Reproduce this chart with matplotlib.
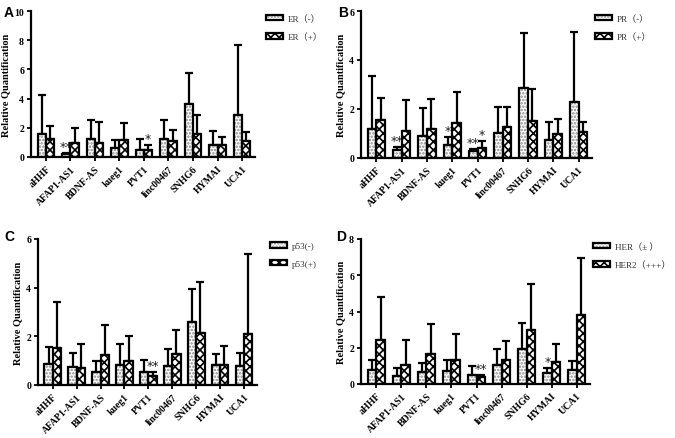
import matplotlib
matplotlib.use("Agg")
import matplotlib.pyplot as plt
import matplotlib.patches as mpatches
import numpy as np

plt.rcParams['hatch.linewidth'] = 1.2

genes = ["aHHF", "AFAP1-AS1", "BDNF-AS", "kueg1", "PVT1", "linc00467", "SNHG6", "HYMAI", "UCA1"]

# Panel A: ER
a_neg = [1.6, 0.22, 1.2, 0.65, 0.5, 1.25, 3.6, 0.85, 2.9]
a_neg_err = [4.25, 0.3, 2.55, 1.15, 1.2, 2.55, 5.75, 1.75, 7.7]
a_pos = [1.2, 0.95, 0.95, 1.15, 0.5, 1.1, 1.6, 0.85, 1.1]
a_pos_err = [2.1, 2.0, 2.4, 2.3, 0.85, 1.85, 2.9, 1.4, 1.7]
a_labels = ["ER（-）", "ER（+）"]

# Panel B: PR
b_neg = [1.2, 0.32, 0.9, 0.55, 0.28, 1.02, 2.85, 0.72, 2.3]
b_neg_err = [3.35, 0.45, 2.05, 0.87, 0.38, 2.1, 5.1, 1.48, 5.15]
b_pos = [1.55, 1.1, 1.2, 1.42, 0.42, 1.28, 1.52, 0.98, 1.08]
b_pos_err = [2.45, 2.35, 2.4, 2.7, 0.7, 2.1, 2.8, 1.6, 1.45]
b_labels = ["PR（-）", "PR（+）"]

# Panel C: p53
c_neg = [0.88, 0.72, 0.52, 0.82, 0.52, 0.8, 2.58, 0.82, 0.8]
c_neg_err = [1.57, 1.33, 0.98, 1.69, 1.01, 1.46, 3.93, 1.27, 1.32]
c_pos = [1.52, 0.68, 1.24, 1.0, 0.35, 1.27, 2.12, 0.82, 2.1]
c_pos_err = [3.4, 1.67, 2.48, 2.03, 0.55, 2.28, 4.25, 1.6, 5.37]
c_labels = ["p53(-)", "p53(+)"]

# Panel D: HER2
d_neg = [0.78, 0.45, 0.68, 0.73, 0.52, 1.05, 1.95, 0.6, 0.8]
d_neg_err = [1.3, 0.88, 1.18, 1.3, 1.0, 1.95, 3.38, 0.88, 1.28]
d_pos = [2.43, 1.05, 1.68, 1.3, 0.38, 1.33, 3.0, 1.2, 3.82]
d_pos_err = [4.8, 2.45, 3.33, 2.77, 0.48, 2.4, 5.5, 2.18, 6.95]
d_labels = ["HER（± ）", "HER2（+++）"]

# significance marks: (gene index, which bar 0/1, text)
a_sig = [(1, 0, "**"), (4, 1, "*")]
b_sig = [(1, 0, "**"), (3, 0, "*"), (4, 0, "**"), (4, 1, "*")]
c_sig = [(4, 1, "**")]
d_sig = [(4, 1, "**"), (7, 0, "*")]

ylims = [10, 6, 6, 8]
yticks = [[0, 2, 4, 6, 8, 10], [0, 2, 4, 6], [0, 2, 4, 6], [0, 2, 4, 6, 8]]

serif = ['Liberation Serif', 'Noto Sans CJK SC', 'DejaVu Sans']

fig = plt.figure(figsize=(6.75, 4.39), dpi=100)
positions = [
    [31/675, 1-158/439, 224/675, 146/439],
    [361/675, 1-159/439, 231/675, 147/439],
    [38/675, 1-386/439, 219/675, 146/439],
    [361/675, 1-385/439, 229/675, 145/439],
]
legend_pos = [(266/675, 1-15/439), (595/675, 1-15/439), (270/675, 1-243/439), (593/675, 1-243/439)]
panels = [
    (a_neg, a_neg_err, a_pos, a_pos_err, a_labels, a_sig),
    (b_neg, b_neg_err, b_pos, b_pos_err, b_labels, b_sig),
    (c_neg, c_neg_err, c_pos, c_pos_err, c_labels, c_sig),
    (d_neg, d_neg_err, d_pos, d_pos_err, d_labels, d_sig),
]
letters = ["A", "B", "C", "D"]
letter_pos = [(4/675, 1-6/439), (338/675, 1-6/439), (4/675, 1-230/439), (336/675, 1-230/439)]

dot_col = '#8a8a8a'
w = 0.34
x = np.arange(len(genes))
for i, (neg, negerr, pos, poserr, labs, sig) in enumerate(panels):
    ax = fig.add_axes(positions[i])
    neg = np.array(neg); pos = np.array(pos)
    negerr = np.array(negerr); poserr = np.array(poserr)
    ax.bar(x - w/2, neg, w, facecolor='white', edgecolor=dot_col, hatch='.....', linewidth=0, zorder=2)
    ax.bar(x - w/2, neg, w, fill=False, edgecolor='black', linewidth=1.6, zorder=3)
    ax.bar(x + w/2, pos, w, facecolor='white', edgecolor='black', hatch='xxxx', linewidth=1.6, zorder=2)
    ax.errorbar(x - w/2, neg, yerr=[np.zeros_like(neg), negerr - neg], fmt='none', ecolor='black',
                elinewidth=1.6, capsize=3, capthick=1.6, zorder=1)
    ax.errorbar(x + w/2, pos, yerr=[np.zeros_like(pos), poserr - pos], fmt='none', ecolor='black',
                elinewidth=1.6, capsize=3, capthick=1.6, zorder=1)
    for gi, b, t in sig:
        top = negerr[gi] if b == 0 else poserr[gi]
        xx = x[gi] - w/2 if b == 0 else x[gi] + w/2
        ax.text(xx, top, t, ha='center', va='bottom', fontsize=9, family='DejaVu Sans',
                color='#222222')
    ax.set_xlim(-0.61, 8.53)
    ax.set_ylim(0, ylims[i])
    ax.set_yticks(yticks[i])
    ax.set_yticklabels([str(v) for v in yticks[i]], fontsize=7, fontweight='bold', family=serif)
    ax.set_xticks(x)
    ax.set_xticklabels(genes, rotation=45, ha='right', rotation_mode='anchor', fontsize=7,
                       fontweight='bold', family=serif)
    ax.spines['top'].set_visible(False)
    ax.spines['right'].set_visible(False)
    for s in ['left', 'bottom']:
        ax.spines[s].set_linewidth(1.6)
    ax.tick_params(axis='both', width=1.3, length=3, pad=2)
    ax.set_ylabel("Relative Quantification", fontsize=7.5, fontweight='bold', family=serif, labelpad=3)
    h1 = (mpatches.Patch(facecolor='white', edgecolor=dot_col, hatch='.....', linewidth=0),
          mpatches.Patch(fill=False, edgecolor='black', linewidth=1.6))
    h2 = mpatches.Patch(facecolor='white', edgecolor='black', hatch='xxxx', linewidth=1.6)
    fig.legend([h1, h2], labs, loc='upper left', bbox_to_anchor=legend_pos[i], frameon=False,
               prop={'family': serif, 'size': 6.6}, handlelength=1.9, handleheight=0.55,
               labelspacing=1.05, handletextpad=0.5, borderpad=0, borderaxespad=0,
               labelcolor='#333333')
    fig.text(letter_pos[i][0], letter_pos[i][1], letters[i], fontsize=10, fontweight='bold',
             family='Liberation Sans', va='top', ha='left')

fig.savefig("out.png", dpi=100)
